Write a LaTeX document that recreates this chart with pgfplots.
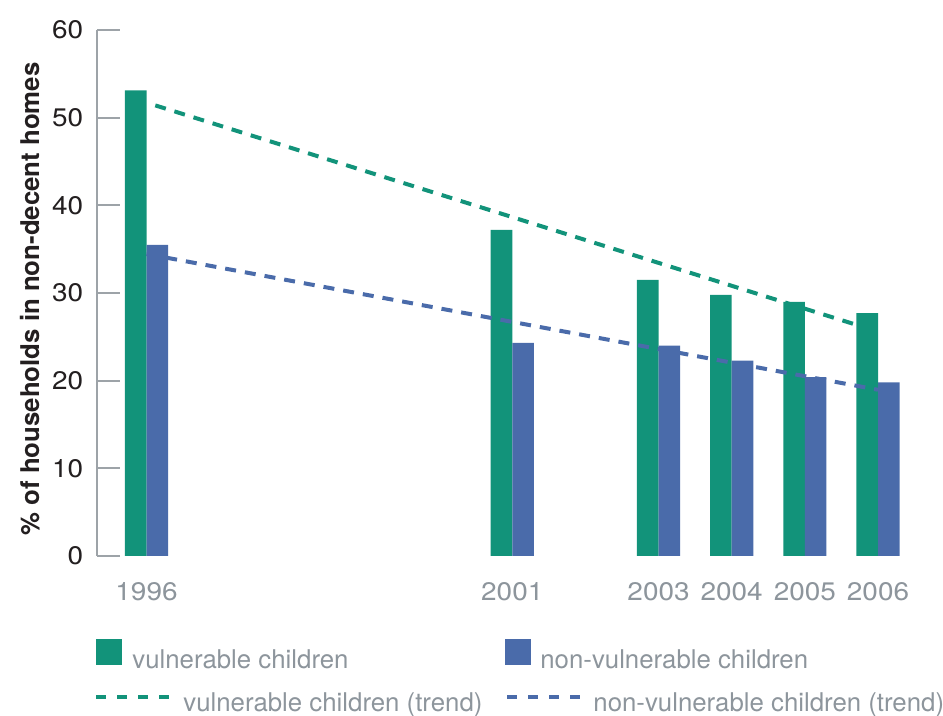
\documentclass[border=0pt]{standalone}
\usepackage{fontspec}
\setmainfont{TeX Gyre Heros}
\newfontfamily\tickfont{TeX Gyre Heros}[FakeStretch=1.1]
\usepackage{pgfplots}
\pgfplotsset{compat=1.18}

\definecolor{vgreen}{RGB}{18,147,122}
\definecolor{nblue}{RGB}{74,107,170}
\definecolor{axisgray}{RGB}{157,163,168}
\definecolor{labelgray}{RGB}{141,149,156}
\definecolor{darktext}{RGB}{35,31,32}

\pgfplotsset{
  common/.style={
    width=412.5pt, height=263pt, scale only axis,
    xmin=1995.323, xmax=2006.6015,
    ymin=0, ymax=60,
  },
}
\newcommand{\legfont}{\fontsize{12.9}{15}\selectfont}
\newcommand{\tickfs}{\tickfont\fontsize{12.7}{15}\selectfont}

\begin{document}
\begin{tikzpicture}
% bars
\begin{axis}[common, name=main,
  axis lines=left,
  axis line style={-, draw=axisgray, line width=1pt},
  x axis line style={draw=none},
  ybar=0pt, bar width=10.8pt,
  xtick={1996,2001,2003,2004,2005,2006},
  xticklabels={1996,2001,2003,2004,2005,2006},
  xtick style={draw=none},
  ytick={0,10,...,60},
  tick align=inside,
  ytick style={draw=axisgray, line width=1pt},
  major tick length=11.5pt,
  /pgf/number format/assume math mode=true,
  xticklabel style={font=\tickfs, text=labelgray, inner sep=0pt, anchor=north, yshift=-13pt},
  yticklabel style={font=\tickfs, text=darktext, inner sep=0pt, anchor=east, xshift=-6.75pt},
  ylabel={\% of households in non-decent homes},
  ylabel style={font=\fontsize{12.9}{15}\selectfont\bfseries, text=darktext, at={(axis description cs:-0.0812,0.4886)}, anchor=center},
  legend columns=2,
  legend cell align=left,
  legend style={draw=none, fill=none, inner sep=0pt, column sep=0pt,
    at={(axis description cs:-0.00121,-0.1885)}, anchor=west,
    nodes={inner sep=0pt, text=labelgray, font=\legfont}},
]
\addplot[fill=vgreen, draw=none,
  legend image code/.code={\fill[vgreen] (0pt,-2.5pt) rectangle (13pt,10.5pt);}]
  coordinates {(1996,53.1) (2001,37.2) (2003,31.5) (2004,29.8) (2005,29.0) (2006,27.7)};
\addlegendentry{\makebox[191.5pt][l]{\hspace{5pt}vulnerable children}}
\addplot[fill=nblue, draw=none,
  legend image code/.code={\fill[nblue] (0pt,-2.5pt) rectangle (13pt,10.5pt);}]
  coordinates {(1996,35.5) (2001,24.3) (2003,24.0) (2004,22.3) (2005,20.4) (2006,19.8)};
\addlegendentry{\hspace{4.5pt}non-vulnerable children}
\end{axis}

% trend lines
\begin{axis}[common, hide axis,
  legend columns=2,
  legend cell align=left,
  legend style={draw=none, fill=none, inner sep=0pt, column sep=0pt,
    at={(axis description cs:-0.0036,-0.2810)}, anchor=west,
    nodes={inner sep=0pt, text=labelgray, font=\legfont}},
]
\addplot[vgreen, line width=2pt, dash pattern=on 5.5pt off 4.5pt,
  legend image code/.code={\draw[vgreen, line width=2pt, dash pattern=on 5pt off 5.5pt] (0pt,3.5pt) -- (37pt,3.5pt);}]
  coordinates {(1996.12,51.4) (2006,25.6)};
\addlegendentry{\makebox[166.3pt][l]{\hspace{5.5pt}vulnerable children (trend)}}
\addplot[nblue, line width=2pt, dash pattern=on 5.5pt off 4.5pt,
  legend image code/.code={\draw[nblue, line width=2pt, dash pattern=on 5pt off 5.5pt] (0pt,3.5pt) -- (37pt,3.5pt);}]
  coordinates {(1996,34.45) (2006,18.96)};
\addlegendentry{\hspace{5.2pt}non-vulnerable children (trend)}
\end{axis}

\pgfresetboundingbox
\path ([shift={(-48.5pt,-80pt)}]main.south west) rectangle ([shift={(10.5pt,15pt)}]main.north east);
\end{tikzpicture}
\end{document}
